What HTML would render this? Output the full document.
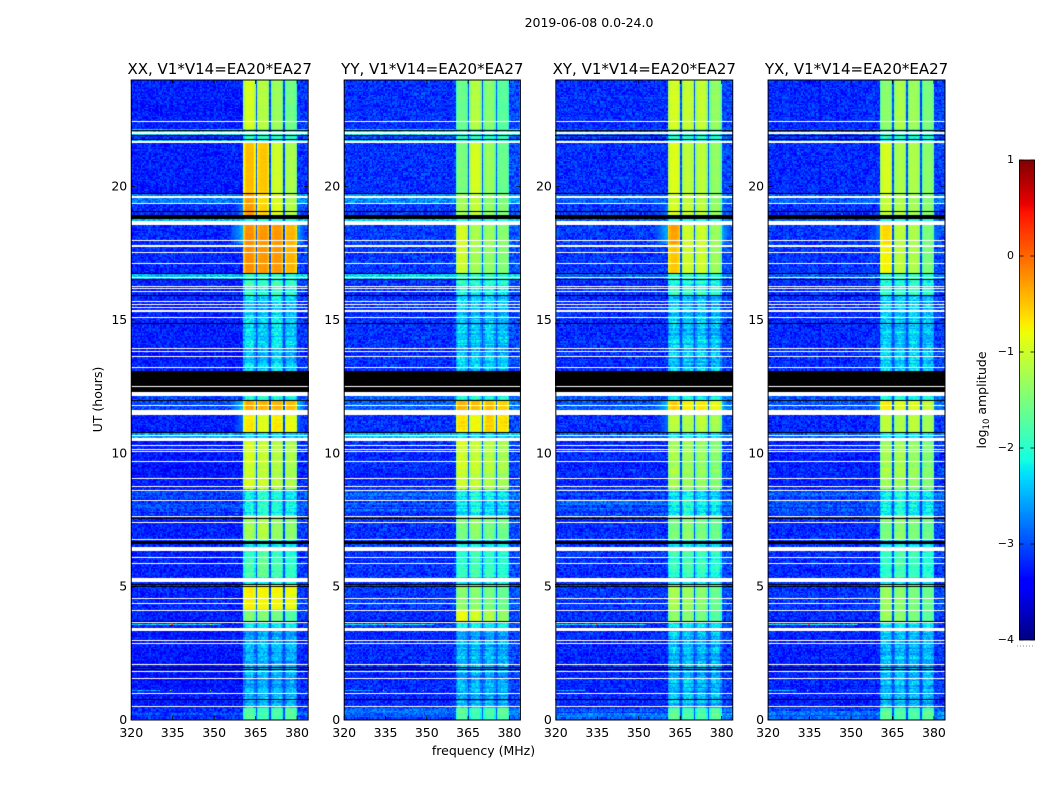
<!DOCTYPE html>
<html>
<head>
<meta charset="utf-8">
<title>2019-06-08 0.0-24.0</title>
<style>
html,body{margin:0;padding:0;background:#fff}
#figure{position:relative;width:1050px;height:800px;overflow:hidden;background:#fff;font-family:"DejaVu Sans","Liberation Sans",sans-serif}
canvas{position:absolute;display:block}
#overlay{position:absolute;left:0;top:0}
</style>
</head>
<body>
<div id="figure">
<canvas id="c0"></canvas>
<canvas id="c1"></canvas>
<canvas id="c2"></canvas>
<canvas id="c3"></canvas>
<canvas id="cbar"></canvas>
<svg id="overlay" width="1050" height="800">
<text x="589" y="27" font-size="12.5" text-anchor="middle">2019-06-08 0.0-24.0</text>
<text x="483.5" y="755" font-size="12.5" text-anchor="middle">frequency (MHz)</text>
<text transform="translate(102 399.5) rotate(-90)" font-size="12.5" text-anchor="middle">UT (hours)</text>
<text transform="translate(986 400) rotate(-90)" font-size="12.5" text-anchor="middle">log<tspan font-size="8.5" dy="3">10</tspan><tspan dy="-3"> amplitude</tspan></text>
</svg>
</div>
<script>
const panelTitles = ["XX, V1*V14=EA20*EA27", "YY, V1*V14=EA20*EA27", "XY, V1*V14=EA20*EA27", "YX, V1*V14=EA20*EA27"];
const freqTicks = [320, 335, 350, 365, 380];
const hourTicks = [0, 5, 10, 15, 20];
const colorTicks = [1, 0, -1, -2, -3, -4];

// Time segments (upper edge in UT hours); per-segment off-band level and in-band grain.
const segmentEndHours = [0.45, 3.45, 3.68, 4.12, 5.05, 5.33, 6.49, 6.71, 7.69, 8.61, 10.46, 10.78, 11.44, 11.98, 12.53, 13.09, 15.92, 16.52, 16.74, 17.81, 18.56, 18.79, 19.37, 19.74, 21.64, 21.77, 21.92, 22.11, 24];
const backgroundLevels = [-3.05, -3.3, -3.25, -3.25, -3.2, -3.2, -3.25, -3.2, -3.25, -3.1, -3.3, -2.55, -3.25, -3.05, -3.05, -3.2, -3.25, -3.25, -2.45, -3.2, -3.2, -2.5, -3.2, -2.8, -3.25, -2.45, -3.2, -2.4, -3.25];
const backgroundStreak = [0.22, 0.06, 0.06, 0.04, 0.04, 0.04, 0.06, 0.06, 0.04, 0.22, 0.08, 0.04, 0.04, 0.04, 0.04, 0.04, 0.04, 0.06, 0.02, 0.02, 0.02, 0.02, 0.02, 0.02, 0.02, 0.02, 0.02, 0.02, 0.02];
const bandGrain = [0.2, 0.42, 0.3, 0.12, 0.08, 0.3, 0.3, 0.3, 0.14, 0.42, 0.2, 0.2, 0.14, 0.1, 0.35, 0.35, 0.42, 0.38, 0.12, 0.06, 0.06, 0.12, 0.06, 0.08, 0.06, 0.12, 0.3, 0.12, 0.08];
const shoulderLevels = [null, null, null, null, null, null, null, null, null, null, null, null, -2.85, -2.45, null, null, null, null, null, null, -2.55, null, -2.8, null, null, null, null, null, null];
const panelShoulderOffsets = [0, -0.5, 0, -0.25];
const panelBackgroundOffsets = [0, 0.1, 0.08, 0.06];
const panelBackgroundCeilings = [0, 0, -3.0, -3.0];

// Log10 amplitude of the four sub-bands, one row per time segment.
const levelsXX = [[-1.65,-1.8,-1.75,-1.65],[-2.5,-2.45,-2.5,-2.5],[-2.2,-2.2,-2.25,-2.2],[-1.45,-1.45,-1.55,-1.75],[-0.7,-0.75,-0.75,-0.8],[-2.2,-2.2,-2.2,-2.2],[-1.85,-1.65,-1.85,-1.95],[-2.2,-2.1,-2.2,-2.2],[-1.25,-1.15,-1.35,-1.4],[-2.2,-2,-2.1,-2.2],[-0.95,-1.05,-1.15,-1.2],[-2.2,-2.2,-2.2,-2.3],[-0.7,-0.9,-0.7,-0.85],[-0.35,-0.4,-0.4,-0.45],[-2.1,-2,-2.1,-2.1],[-2.1,-2,-2.1,-2.1],[-2.3,-2.4,-2.25,-2.4],[-1.9,-2,-1.9,-2],[-1.9,-1.9,-1.9,-2],[-0.2,-0.25,-0.25,-0.4],[-0.2,-0.25,-0.25,-0.4],[-2,-2,-2,-2],[-0.25,-0.55,-0.9,-1.15],[-0.3,-0.6,-0.95,-1.2],[-0.45,-0.5,-1.0,-1.2],[-2,-2,-2,-2],[-2,-2,-2,-2],[-2,-2,-2,-2],[-0.95,-1.15,-1.3,-1.55]];
const levelsYY = [[-1.7,-1.85,-1.8,-1.7],[-2.5,-2.5,-2.5,-2.55],[-2.2,-2.2,-2.25,-2.2],[-0.8,-0.95,-1.15,-1.35],[-1.4,-1.4,-1.5,-1.6],[-2.2,-2.2,-2.2,-2.2],[-1.95,-1.8,-1.9,-2],[-2.2,-2.1,-2.2,-2.2],[-1.5,-1.35,-1.5,-1.55],[-2.2,-2.05,-2.2,-2.25],[-1,-1.05,-1.15,-1.25],[-2.2,-2.2,-2.2,-2.3],[-0.65,-0.8,-0.55,-0.65],[-0.4,-0.45,-0.45,-0.55],[-2.1,-2.05,-2.15,-2.1],[-2.1,-2.05,-2.15,-2.1],[-2.35,-2.4,-2.35,-2.45],[-2,-2.05,-2,-2.1],[-1.9,-1.9,-1.9,-2],[-1,-1.25,-1.35,-1.45],[-0.95,-1.2,-1.3,-1.4],[-2,-2,-2,-2],[-1.25,-1.05,-1.35,-1.45],[-1.3,-1.1,-1.4,-1.5],[-1.5,-0.95,-1.3,-1.6],[-2,-2,-2,-2],[-2,-2,-2,-2],[-2,-2,-2,-2],[-1.6,-1.15,-1.4,-1.7]];
const levelsXY = [[-1.7,-1.8,-1.8,-1.7],[-2.45,-2.45,-2.5,-2.5],[-2.2,-2.2,-2.25,-2.2],[-1.4,-1.45,-1.55,-1.75],[-1.2,-1.3,-1.4,-1.6],[-2.2,-2.2,-2.2,-2.2],[-1.95,-1.8,-1.9,-2.05],[-2.2,-2.1,-2.2,-2.2],[-1.5,-1.4,-1.5,-1.6],[-2.2,-2.05,-2.2,-2.25],[-1.25,-1.3,-1.35,-1.45],[-2.2,-2.2,-2.2,-2.3],[-1.1,-1.2,-1.1,-1.25],[-0.55,-0.75,-0.7,-0.85],[-2.1,-2.05,-2.15,-2.1],[-2.1,-2.05,-2.15,-2.1],[-2.35,-2.4,-2.35,-2.45],[-2,-2.05,-2,-2.1],[-1.9,-1.9,-1.9,-2],[-0.5,-1,-1,-1.3],[-0.3,-1,-1,-1.3],[-2,-2,-2,-2],[-0.95,-1.05,-1.1,-1.35],[-1,-1.1,-1.15,-1.4],[-0.9,-1.1,-1.1,-1.35],[-2,-2,-2,-2],[-2,-2,-2,-2],[-2,-2,-2,-2],[-0.95,-1.05,-1.05,-1.35]];
const levelsYX = [[-1.7,-1.8,-1.8,-1.7],[-2.45,-2.45,-2.5,-2.5],[-2.2,-2.2,-2.25,-2.2],[-1.3,-1.4,-1.5,-1.7],[-1.3,-1.4,-1.5,-1.6],[-2.2,-2.2,-2.2,-2.2],[-1.95,-1.8,-1.9,-2.05],[-2.2,-2.1,-2.2,-2.2],[-1.5,-1.4,-1.5,-1.6],[-2.2,-2.05,-2.2,-2.25],[-1.25,-1.25,-1.35,-1.45],[-2.2,-2.2,-2.2,-2.3],[-1.1,-1.2,-1.1,-1.25],[-0.7,-0.9,-0.9,-1.05],[-2.1,-2.05,-2.15,-2.1],[-2.1,-2.05,-2.15,-2.1],[-2.35,-2.4,-2.35,-2.45],[-2,-2.05,-2,-2.1],[-1.9,-1.9,-1.9,-2],[-0.75,-1.1,-1.2,-1.5],[-0.6,-1.1,-1.2,-1.5],[-2,-2,-2,-2],[-1.05,-1.15,-1.25,-1.4],[-1.05,-1.2,-1.3,-1.45],[-0.95,-1.2,-1.2,-1.4],[-2,-2,-2,-2],[-2,-2,-2,-2],[-2,-2,-2,-2],[-1.4,-1.2,-1.3,-1.5]];
const panelLevels = [levelsXX, levelsYY, levelsXY, levelsYX];

// First channel of each sub-band (0.5 MHz channels from 320 MHz).
const subbandStartChannels = [81, 91, 101, 111];
const bandpassShape = [-0.3, -0.08, 0, 0, 0, 0, 0, -0.08, -0.3];
const gapLevel = -3.0;

// Flagged times in UT hours.
const whiteFlagHours = [22.44,19.37,17.98,17.53,17.12,16.59,16.26,16.18,16.07,15.69,15.58,15.47,15.09,13.93,13.82,13.63,13.22,12.51,11.79,11.61,10.67,10.29,10.14,10.07,9.69,9.06,8.76,8.61,8.23,7.63,7.41,6.77,6.09,5.87,4.56,4.37,4.11,3.66,2.98,2.87,2.08,1.82,1.56,0.99,0.51];
const whiteFlagRanges = [[21.975,22.05],[21.64,21.71],[19.58,19.65],[18.56,18.71],[17.74,17.81],[15.3,15.38],[12.15,12.3],[11.44,11.59],[10.46,10.58],[6.34,6.49],[5.18,5.33],[3.34,3.45]];
const blackFlagHours = [22.11,21.92,21.77,19.74,19.07,16.74,16.52,15.92,14.87,11.98,10.78,7.56,5.08,5.01,3.69,1.97,1.89,0.77];
const blackFlagRanges = [[18.79,18.94],[12.53,13.09],[12.3,12.49],[6.6,6.71]];

// Narrow-band interference rows: hour, start MHz, end MHz, level.
const interferenceRows = [[3.59,320,352,-2.2],[1.12,320,330,-2.5]];
// Interference spots: hour, MHz, level.
const interferenceSpots = [[3.59,334,-0.6],[3.59,334.5,0.1],[3.59,348.5,-0.8],[1.12,334,-0.9],[1.12,348.5,-1.0]];

// Fixed cell-texture table (not measured from the picture, gives the fine grain only).
const speckleTable = [0.31,-0.62,0.88,-0.14,0.47,-0.93,0.05,0.72,-0.38,-0.71,0.19,0.95,-0.27,0.56,-0.49,-0.08,0.66,-0.84,0.24,-0.55,1,-0.33,0.12,-0.77,0.41,0.83,-0.19,-0.96,0.36,0.6,-0.44,-0.02,0.77,-0.66,0.15,-0.88,0.52,0.27,-0.58,0.91,-0.11,-0.35,0.69,-0.74,0.09,0.44,-0.91,0.33,-0.23,0.8,-0.52,0.02,-0.68,0.58,0.21,-0.41,0.75,-0.17,-0.82,0.38,0.64];

const NS = "http://www.w3.org/2000/svg";
const overlay = document.getElementById("overlay");
const panelLeft = [131.25, 344.2, 555.85, 768.1];
const panelWidths = [176.9, 176.2, 176.9, 176.9];
const panelTop = 80, panelBottom = 720;
const freqMin = 320, freqMax = 384, hourMax = 24;
const channelCount = 128, rowHours = 0.05;
const colorMin = -4, colorMax = 1;

function xScale(panel, mhz) { return panelLeft[panel] + (mhz - freqMin) / (freqMax - freqMin) * panelWidths[panel]; }
function yScale(hour) { return panelBottom - hour / hourMax * (panelBottom - panelTop); }
function channelMhz(ch) { return freqMin + ch * (freqMax - freqMin) / channelCount; }

function ramp(v, pts) {
  for (let i = 1; i < pts.length; i++) {
    if (v <= pts[i][0]) {
      const a = pts[i - 1], b = pts[i];
      return a[1] + (b[1] - a[1]) * (v - a[0]) / (b[0] - a[0]);
    }
  }
  return pts[pts.length - 1][1];
}
function jet(level) {
  const f = Math.min(1, Math.max(0, (level - colorMin) / (colorMax - colorMin)));
  const r = ramp(f, [[0,0],[0.35,0],[0.66,1],[0.89,1],[1,0.5]]);
  const g = ramp(f, [[0,0],[0.125,0],[0.375,1],[0.64,1],[0.91,0],[1,0]]);
  const b = ramp(f, [[0,0.5],[0.11,1],[0.34,1],[0.65,0],[1,0]]);
  return "rgb(" + Math.round(r * 255) + "," + Math.round(g * 255) + "," + Math.round(b * 255) + ")";
}
function segmentFor(hour) {
  for (let i = 0; i < segmentEndHours.length; i++) if (hour < segmentEndHours[i]) return i;
  return segmentEndHours.length - 1;
}
function speckle(panel, row, ch) {
  return speckleTable[(row * 23 + row * row * 3 + ch * ch * 7 + ch * 3 + ch * row * 5 + panel * 11) % speckleTable.length];
}
function cellLevel(panel, row, ch, hour) {
  const seg = segmentFor(hour);
  const n = speckle(panel, row, ch);
  const rowN = speckleTable[(row * 29 + row * row + panel * 5) % speckleTable.length];
  const grain = bandGrain[seg];
  for (let s = 0; s < subbandStartChannels.length; s++) {
    const start = subbandStartChannels[s];
    if (ch >= start && ch < start + bandpassShape.length) {
      return panelLevels[panel][seg][s] + bandpassShape[ch - start] + grain * (0.55 * n + 0.45 * rowN);
    }
    if (ch === start + bandpassShape.length && s < subbandStartChannels.length - 1) {
      return gapLevel + 0.15 * n;
    }
  }
  let base = backgroundLevels[seg];
  if (panelBackgroundCeilings[panel] < 0) base = Math.min(base, panelBackgroundCeilings[panel]);
  let v = base + panelBackgroundOffsets[panel] + 0.3 * n + backgroundStreak[seg] * rowN;
  if (ch >= 120) v += 0.12;
  let sh = shoulderLevels[seg];
  if (sh !== null) {
    sh += panelShoulderOffsets[panel];
    if (ch >= 72 && ch <= 80) v = Math.max(v, sh - (80 - ch) * 0.06 + 0.1 * n);
    if (ch >= 120 && ch <= 125) v = Math.max(v, sh - (ch - 120) * 0.1 + 0.1 * n);
  }
  return v;
}

function drawPanel(panel) {
  const cv = document.getElementById("c" + panel);
  const left = Math.floor(panelLeft[panel]);
  const right = Math.ceil(panelLeft[panel] + panelWidths[panel]);
  cv.style.left = left + "px";
  cv.style.top = panelTop + "px";
  cv.width = right - left;
  cv.height = panelBottom - panelTop;
  const ctx = cv.getContext("2d");
  const rows = Math.round(hourMax / rowHours);
  for (let r = 0; r < rows; r++) {
    const hour = r * rowHours;
    const yBot = Math.round(yScale(hour)) - panelTop;
    const yTop = Math.round(yScale(hour + rowHours)) - panelTop;
    if (yBot <= yTop) continue;
    for (let c = 0; c < channelCount; c++) {
      const x0 = Math.round(xScale(panel, channelMhz(c))) - left;
      const x1 = Math.round(xScale(panel, channelMhz(c + 1))) - left;
      if (x1 <= x0) continue;
      ctx.fillStyle = jet(cellLevel(panel, r, c, hour));
      ctx.fillRect(x0, yTop, x1 - x0, yBot - yTop);
    }
  }
  function xPx(mhz) { return Math.round(xScale(panel, mhz)) - left; }
  interferenceRows.forEach(function (d) {
    const y = Math.floor(yScale(d[0])) - panelTop;
    for (let c = 0; c < channelCount; c++) {
      const mhz = channelMhz(c);
      if (mhz < d[1] || mhz > d[2]) continue;
      ctx.fillStyle = jet(d[3] + 0.3 * speckle(panel, 7, c));
      ctx.fillRect(xPx(mhz), y, xPx(mhz + 0.5) - xPx(mhz), 1);
    }
  });
  interferenceSpots.forEach(function (d) {
    ctx.fillStyle = jet(d[2]);
    ctx.fillRect(xPx(d[1]), Math.floor(yScale(d[0])) - panelTop, xPx(d[1] + 0.5) - xPx(d[1]), 1);
  });
  function band(color, hi, lo) {
    ctx.fillStyle = color;
    const y0 = Math.round(yScale(hi)) - panelTop;
    ctx.fillRect(0, y0, cv.width, Math.max(1, Math.round(yScale(lo)) - panelTop - y0));
  }
  blackFlagRanges.forEach(function (d) { band("#000", d[1], d[0]); });
  whiteFlagRanges.forEach(function (d) { band("#fff", d[1], d[0]); });
  blackFlagHours.forEach(function (h) {
    ctx.fillStyle = "#000";
    ctx.fillRect(0, Math.floor(yScale(h)) - panelTop, cv.width, 1);
  });
  whiteFlagHours.forEach(function (h) {
    ctx.fillStyle = "#fff";
    ctx.fillRect(0, Math.floor(yScale(h)) - panelTop, cv.width, 1);
  });
}

function svgEl(tag, attrs, text) {
  const el = document.createElementNS(NS, tag);
  Object.keys(attrs).forEach(function (k) { el.setAttribute(k, attrs[k]); });
  if (text !== undefined) el.textContent = text;
  overlay.appendChild(el);
  return el;
}

function drawAxes(panel) {
  const x0 = panelLeft[panel], x1 = x0 + panelWidths[panel];
  const title = svgEl("text", { x: (x0 + x1) / 2, y: 74, "font-size": 15, "text-anchor": "middle" }, panelTitles[panel]);
  
  
  const frame = svgEl("rect", { x: x0, y: panelTop, width: panelWidths[panel], height: panelBottom - panelTop, fill: "none", stroke: "#000", "stroke-width": 1 });
  
  
  freqTicks.forEach(function (f) {
    const x = xScale(panel, f);
    const tickB = svgEl("line", { x1: x, x2: x, y1: panelBottom, y2: panelBottom - 4, stroke: "#000", "stroke-width": 0.8 });
    
    
    const tickT = svgEl("line", { x1: x, x2: x, y1: panelTop, y2: panelTop + 4, stroke: "#000", "stroke-width": 0.8 });
    
    
    const label = svgEl("text", { x: x, y: 737, "font-size": 12.5, "text-anchor": "middle" }, String(f));
    
    
  });
  hourTicks.forEach(function (h) {
    const y = yScale(h);
    const tickL = svgEl("line", { x1: x0, x2: x0 + 4, y1: y, y2: y, stroke: "#000", "stroke-width": 0.8 });
    
    
    const tickR = svgEl("line", { x1: x1, x2: x1 - 4, y1: y, y2: y, stroke: "#000", "stroke-width": 0.8 });
    
    
    const label = svgEl("text", { x: x0 - 4, y: y + 4, "font-size": 12.5, "text-anchor": "end" }, String(h));
    
    
  });
}

const barLeft = 1019.5, barRight = 1034.5, barTop = 160, barBottom = 640;
function colorY(v) { return barBottom - (v - colorMin) / (colorMax - colorMin) * (barBottom - barTop); }

function drawColorbar() {
  const cv = document.getElementById("cbar");
  cv.style.left = Math.floor(barLeft) + "px";
  cv.style.top = barTop + "px";
  cv.width = Math.ceil(barRight) - Math.floor(barLeft);
  cv.height = barBottom - barTop;
  const ctx = cv.getContext("2d");
  for (let y = 0; y < cv.height; y++) {
    ctx.fillStyle = jet(colorMax - (y + 0.5) / cv.height * (colorMax - colorMin));
    ctx.fillRect(0, y, cv.width, 1);
  }
  const frame = svgEl("rect", { x: barLeft, y: barTop, width: barRight - barLeft, height: barBottom - barTop, fill: "none", stroke: "#000", "stroke-width": 1, "stroke-opacity": 0.8 });
  
  
  colorTicks.forEach(function (v) {
    const y = colorY(v);
    const tickL = svgEl("line", { x1: barLeft, x2: barLeft + 4, y1: y, y2: y, stroke: "#000", "stroke-width": 0.8 });
    
    
    const tickR = svgEl("line", { x1: barRight, x2: barRight - 4, y1: y, y2: y, stroke: "#000", "stroke-width": 0.8 });
    
    
    const label = svgEl("text", { x: 1014, y: y + 3, "font-size": 11, "text-anchor": "end" }, (v < 0 ? "\u2212" + Math.abs(v) : String(v)));
    
    
  });
  const dots = svgEl("line", { x1: 1017, x2: 1035, y1: 646, y2: 646, stroke: "#888", "stroke-width": 1, "stroke-dasharray": "1 2" });
  
  
}

for (let p = 0; p < panelTitles.length; p++) {
  drawPanel(p);
  drawAxes(p);
}
drawColorbar();
</script>
</body>
</html>
